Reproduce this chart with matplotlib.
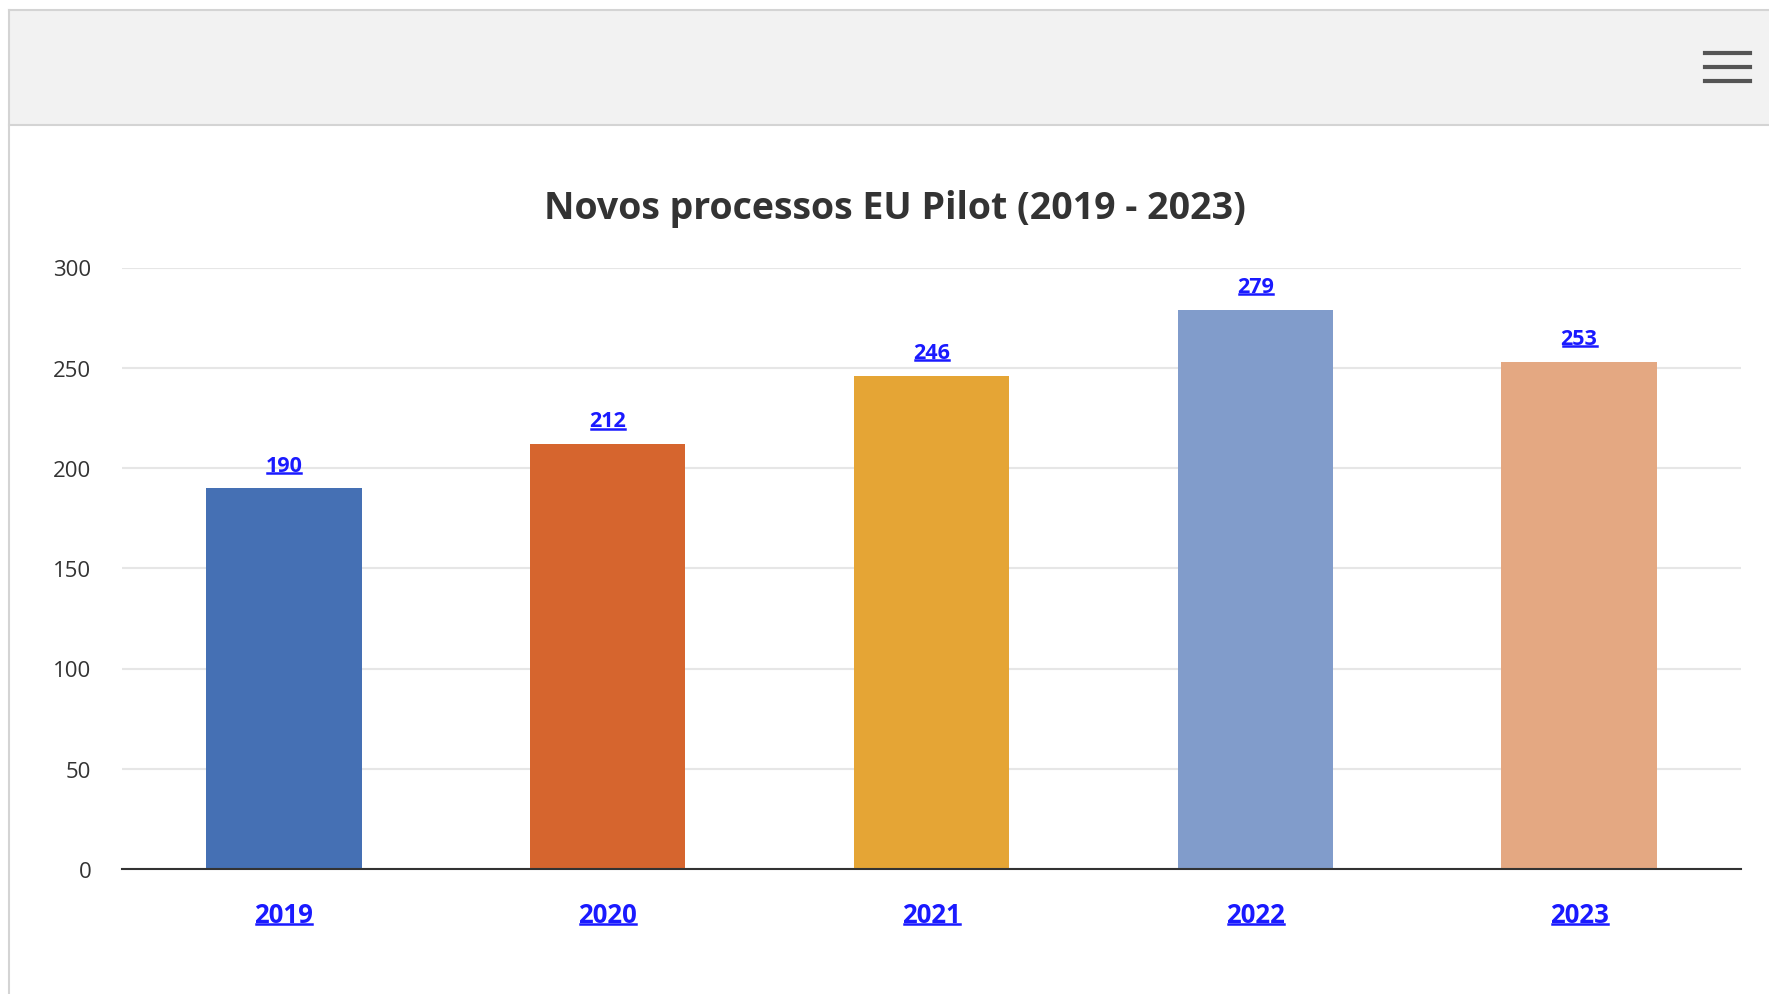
import matplotlib
matplotlib.use("Agg")
import matplotlib.pyplot as plt
from matplotlib.lines import Line2D
from matplotlib.patches import Rectangle

plt.rcParams['font.family'] = ['Open Sans', 'DejaVu Sans']

# data
years = ['2019', '2020', '2021', '2022', '2023']
counts = [190, 212, 246, 279, 253]
bar_colors = ['#4570b4', '#d6652e', '#e5a535', '#819ccb', '#e4a882']
yticks = [0, 50, 100, 150, 200, 250, 300]
title = 'Novos processos EU Pilot (2019 - 2023)'

link_blue = '#1a1aff'
W, H = 1769, 995

fig = plt.figure(figsize=(W / 100, H / 100), dpi=100)
fig.patch.set_facecolor('white')

# header band with the menu icon
fig.patches.append(Rectangle((9 / W, 1 - 126 / H), 1 - 9 / W, 115 / H, transform=fig.transFigure,
                             facecolor='#f2f2f2', edgecolor='none', zorder=0))
for yy in (11, 126):
    fig.add_artist(Line2D([9 / W, 1], [1 - yy / H] * 2, color='#d4d4d4', lw=1.5))
fig.add_artist(Line2D([9 / W, 9 / W], [0, 1 - 11 / H], color='#d4d4d4', lw=1.5))
for yy in (54, 68, 82):
    fig.add_artist(Line2D([1705 / W, 1750 / W], [1 - yy / H] * 2, color='#555555', lw=3))

ax = fig.add_axes([122 / W, 1 - 870 / H, (1741 - 122) / W, (870 - 268.5) / H])
x = range(len(years))
bars = ax.bar(x, counts, width=0.48, color=bar_colors, zorder=2)

ax.set_xlim(-0.5, len(years) - 0.5)
ax.set_ylim(0, 300)
ax.set_yticks(yticks)
ax.set_yticklabels([str(t) for t in yticks], fontsize=16, color='#333333')
ax.tick_params(axis='y', length=0, pad=22)
ax.grid(axis='y', color='#e6e6e6', lw=1.5, zorder=0)
ax.set_axisbelow(True)
for s in ('top', 'right', 'left'):
    ax.spines[s].set_visible(False)
ax.spines['bottom'].set_color('#333333')
ax.spines['bottom'].set_linewidth(1.5)
ax.spines['bottom'].set_zorder(3)

ax.set_xticks(list(x))
ax.set_xticklabels(years, fontsize=18.5, fontweight='bold', color=link_blue)
ax.tick_params(axis='x', length=0, pad=23)

fig.text(895 / W, 1 - 209 / H, title, ha='center', va='center', fontsize=27,
         fontweight='bold', color='#333333')

value_texts = []
for i, v in enumerate(counts):
    t = ax.annotate(str(v), (i, v), xytext=(0, 9), textcoords='offset points',
                    ha='center', va='bottom', fontsize=15.5, fontweight='bold', color=link_blue)
    value_texts.append(t)

# underline the link-style labels
fig.canvas.draw()
renderer = fig.canvas.get_renderer()
for t in value_texts + list(ax.get_xticklabels()):
    bb = t.get_window_extent(renderer)
    yline = bb.y0 + bb.height * 0.14
    fig.add_artist(Line2D([(bb.x0 + 2) / W, (bb.x1 - 1) / W], [yline / H] * 2, color=link_blue, lw=1.8))

fig.savefig('out.png', dpi=100)
